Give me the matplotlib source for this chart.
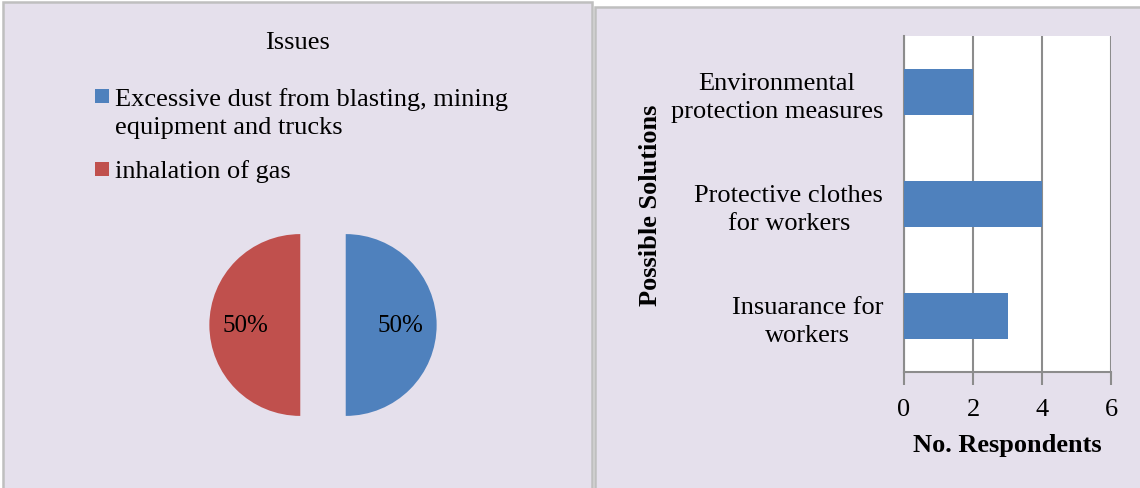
import matplotlib
matplotlib.use("Agg")
import matplotlib.pyplot as plt
from matplotlib.patches import Rectangle

plt.rcParams["font.family"] = ["Liberation Serif", "DejaVu Serif"]

# ---- data ----
issue_labels = ["Excessive dust from blasting, mining\nequipment and trucks",
                "inhalation of gas"]
issue_shares = [50, 50]
issue_colors = ["#4F81BD", "#C0504D"]

solutions = ["Environmental\nprotection measures",
             "Protective clothes\nfor workers",
             "Insuarance for\nworkers"]
respondents = [2, 4, 3]
x_ticks = [0, 2, 4, 6]

W, H = 1140, 489
BG = "#E5E0EC"
EDGE = "#BFBFBF"
GRID = "#8C8C8C"
LINE_STEP = 29  # pixel distance between wrapped text lines

fig = plt.figure(figsize=(W / 100, H / 100), dpi=100, facecolor="white")


def px(x0, y0, x1, y1):
    """Convert a pixel box (top-left origin) into figure fractions."""
    return [x0 / W, 1 - y1 / H, (x1 - x0) / W, (y1 - y0) / H]


# panel backgrounds
for (x0, y0, x1, y1) in [(3, 3, 592, 495), (595, 8, 1146, 495)]:
    fig.patches.append(Rectangle((x0 / W, 1 - y1 / H), (x1 - x0) / W, (y1 - y0) / H,
                                 transform=fig.transFigure, facecolor=BG,
                                 edgecolor=EDGE, linewidth=1.8, zorder=-5))

# ---- left panel: pie ----
fig.text(298 / W, 1 - 49 / H, "Issues", ha="center", va="baseline", fontsize=19)

ax_pie = fig.add_axes(px(193, 196, 453, 456))
ax_pie.set_facecolor("none")
wedges, _, autotexts = ax_pie.pie(issue_shares, colors=issue_colors, startangle=90,
                                  counterclock=False, explode=[0.25, 0.25],
                                  autopct="%1.0f%%", pctdistance=0.6,
                                  textprops=dict(fontsize=18, color="black"))
ax_pie.set_xlim(-1.43, 1.43)
ax_pie.set_ylim(-1.43, 1.43)
ax_pie.set_aspect("equal")
ax_pie.axis("off")

# legend: colour square beside the first line of each label
legend_first_baselines = [105, 178]
for label, color, base in zip(issue_labels, issue_colors, legend_first_baselines):
    fig.patches.append(Rectangle((95 / W, 1 - (base - 1) / H), 14 / W, 14 / H,
                                 transform=fig.transFigure, facecolor=color,
                                 edgecolor="none", zorder=2))
    n_extra = label.count("\n")
    fig.text(115 / W, 1 - (base + LINE_STEP * n_extra) / H, label,
             ha="left", va="baseline", fontsize=19, linespacing=1.33)

# ---- right panel: horizontal bars ----
ax = fig.add_axes(px(904, 37, 1111, 373))
ax.set_facecolor("white")
ypos = list(range(len(solutions)))
ax.barh(ypos, respondents, height=0.41, color="#4F81BD", zorder=3)
ax.set_ylim(len(solutions) - 0.5, -0.5)
ax.set_yticks(ypos)
ax.set_yticklabels(solutions, fontsize=19, multialignment="center", linespacing=1.33)
ax.tick_params(axis="y", length=0, pad=15)
ax.set_xlim(0, 6)
ax.set_xticks(x_ticks)
ax.tick_params(axis="x", length=9, width=1.5, color=GRID, labelsize=19, pad=10)
ax.grid(axis="x", color=GRID, linewidth=1.5, zorder=1)
for side in ["top", "right"]:
    ax.spines[side].set_visible(False)
for side in ["left", "bottom"]:
    ax.spines[side].set_color(GRID)
    ax.spines[side].set_linewidth(1.5)
ax.set_xlabel("No. Respondents", fontsize=19, fontweight="bold")
ax.xaxis.set_label_coords(0.5, (373 - 434) / 336)
ax.set_ylabel("Possible Solutions", fontsize=19, fontweight="bold")
ax.yaxis.set_label_coords((662 - 904) / 207, 0.5)

fig.savefig("out.png", dpi=100, facecolor="white")
